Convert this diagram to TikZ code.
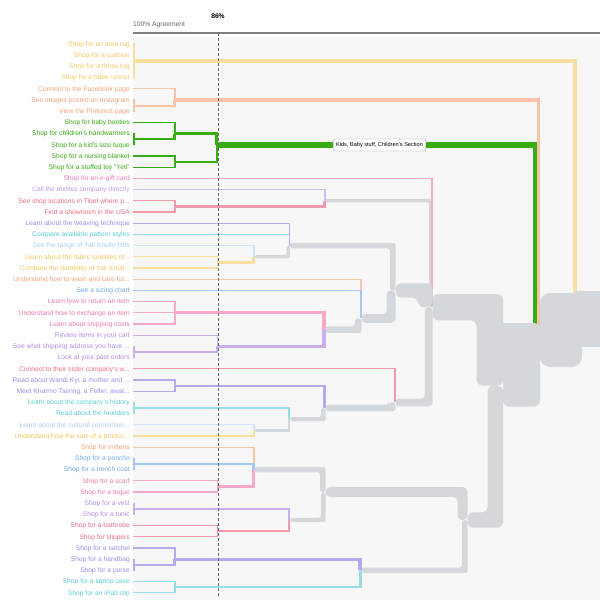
\documentclass[tikz,border=0pt]{standalone}
\usepackage{fontspec}
\newfontfamily\lab{Liberation Sans}
\definecolor{cYel}{HTML}{F5C860}
\definecolor{cOrg}{HTML}{F5A37B}
\definecolor{cGrn}{HTML}{38AD12}
\definecolor{cPnk}{HTML}{F27AAE}
\definecolor{cLav}{HTML}{BA9CEA}
\definecolor{cRed}{HTML}{EC6E88}
\definecolor{cInd}{HTML}{9E8DE8}
\definecolor{cTea}{HTML}{5ECED6}
\definecolor{cLbl}{HTML}{A9CCF5}
\definecolor{cBlu}{HTML}{72AAF2}
\definecolor{cPur}{HTML}{B38CE8}
\definecolor{cGry}{HTML}{D5D8DB}
\colorlet{lYel}{cYel!60!white}
\colorlet{lOrg}{cOrg!65!white}
\colorlet{lGrn}{cGrn}
\colorlet{lPnk}{cPnk!65!white}
\colorlet{lLav}{cLav!65!white}
\colorlet{lRed}{cRed!70!white}
\colorlet{lInd}{cInd!75!white}
\colorlet{lTea}{cTea!65!white}
\colorlet{lLbl}{cLbl!55!white}
\colorlet{lBlu}{cBlu!65!white}
\colorlet{lPur}{cPur!70!white}
% coloured link: colour, leaves, xc, yc, xp, yp
\newcommand{\lk}[6]{%
  \pgfmathsetmacro{\lkw}{1.1*#2}%
  \pgfmathsetmacro{\lkx}{#5-0.55*#2}%
  \draw[line width=\lkw pt, color=#1, line cap=butt, line join=miter] (#3,#4) -- (\lkx,#4) -- (\lkx,#6);}
% thick grey link as a filled elbow with rounded corners
\newcommand{\glk}[6]{%
  \pgfmathsetmacro{\gkw}{1.1*#2}%
  \pgfmathsetmacro{\gkh}{0.55*#2}%
  \pgfmathsetmacro{\gks}{2*(#6>#4)-1}%
  \pgfmathsetmacro{\gkr}{min(0.45*\gkw,6)}%
  \pgfmathsetmacro{\gkya}{#4-\gks*\gkh}%
  \pgfmathsetmacro{\gkyb}{#4+\gks*\gkh}%
  \pgfmathsetmacro{\gkxl}{#5-\gkw}%
  \fill[#1, rounded corners=\gkr pt] (#3,\gkya) -- (#5,\gkya) -- (#5,#6) -- (\gkxl,#6) -- (\gkxl,\gkyb) -- (#3,\gkyb) -- cycle;}
\newcommand{\lbl}[3]{\node[lbl, text=#2] (l#1) at (130,{44+11.2*(#1-1)+2.2}) {#3};}
\tikzset{lbl/.style={anchor=base east, inner sep=0pt, font=\lab\fontsize{6.7}{8}\selectfont}}
\begin{document}
\begin{tikzpicture}[x=1pt,y=-1pt]
\useasboundingbox (0,0) rectangle (600,600);
\fill[white] (0,0) rectangle (600,600);
\fill[black!3] (133,37) rectangle (600,600);
\draw[color=black!50, line width=1.2pt] (133,33) -- (600,33);
\node[anchor=base west, inner sep=0pt, text=black!60, font=\lab\fontsize{6.7}{8}\selectfont] (agr) at (133,26.7) {100\% Agreement};
\node[anchor=base, inner sep=0pt, font=\lab\fontsize{6.7}{8}\selectfont\bfseries] (pct) at (218,18.5) {86\%};
\begin{scope}
\clip (132,37) rectangle (600,600);
% A
\lk{lYel}{1}{133}{44}{134.5}{60.8}
\lk{lYel}{1}{133}{55.2}{134.5}{60.8}
\lk{lYel}{1}{133}{66.4}{134.5}{60.8}
\lk{lYel}{1}{133}{77.6}{134.5}{60.8}
% B
\lk{lOrg}{1}{133}{88.8}{175.5}{100}
\lk{lOrg}{1}{133}{100}{134.5}{105.6}
\lk{lOrg}{1}{133}{111.2}{134.5}{105.6}
\lk{lOrg}{2}{134.5}{105.6}{175.5}{100}
% C
\lk{lGrn}{1}{133}{122.4}{175.5}{133.6}
\lk{lGrn}{1}{133}{133.6}{134.5}{139.2}
\lk{lGrn}{1}{133}{144.8}{134.5}{139.2}
\lk{lGrn}{2}{134.5}{139.2}{175.5}{133.6}
\lk{lGrn}{1}{133}{156}{175.5}{161.6}
\lk{lGrn}{1}{133}{167.2}{175.5}{161.6}
\lk{lGrn}{3}{175.5}{133.6}{218}{144.8}
\lk{lGrn}{2}{175.5}{161.6}{218}{144.8}
% D
\lk{lRed}{1}{133}{200.8}{175.5}{206.4}
\lk{lRed}{1}{133}{212}{175.5}{206.4}
\lk{lLav}{1}{133}{189.6}{325.5}{200.8}
\lk{lRed}{2}{175.5}{206.4}{325.5}{200.8}
% E
\lk{lYel}{1}{133}{256.8}{218}{262.4}
\lk{lYel}{1}{133}{268}{218}{262.4}
\lk{lLbl}{1}{133}{245.6}{254.5}{256.8}
\lk{lYel}{2}{218}{262.4}{254.5}{256.8}
\glk{cGry}{3}{254.5}{256.8}{290}{245.6}
\lk{lTea}{1}{133}{234.4}{290}{245.6}
\lk{lInd}{1}{133}{223.2}{290}{245.6}
% F G H
\lk{lPnk}{1}{133}{301.6}{175.5}{312.8}
\lk{lPnk}{1}{133}{312.8}{175.5}{312.8}
\lk{lPnk}{1}{133}{324}{175.5}{312.8}
\lk{lPur}{1}{133}{346.4}{134.5}{352}
\lk{lPur}{1}{133}{357.6}{134.5}{352}
\lk{lPur}{1}{133}{335.2}{218}{346.4}
\lk{lPur}{2}{134.5}{352}{218}{346.4}
\lk{lPnk}{3}{175.5}{312.8}{325.5}{329.6}
\lk{lPur}{3}{218}{346.4}{325.5}{329.6}
\glk{cGry}{6}{325.5}{329.6}{361.5}{318.4}
\lk{lOrg}{1}{133}{279.2}{361.5}{318.4}
\lk{lBlu}{1}{133}{290.4}{361.5}{318.4}
\glk{cGry}{8}{361.5}{318.4}{395.5}{290.4}
\glk{cGry}{5}{290}{245.6}{395.5}{290.4}
% I
\lk{lInd}{1}{133}{380}{175.5}{385.6}
\lk{lInd}{1}{133}{391.2}{175.5}{385.6}
\lk{lTea}{1}{133}{402.4}{134.5}{408}
\lk{lTea}{1}{133}{413.6}{134.5}{408}
\lk{lLbl}{1}{133}{424.8}{254.5}{430.4}
\lk{lYel}{1}{133}{436}{254.5}{430.4}
\lk{lTea}{2}{134.5}{408}{290}{419.2}
\lk{cGry}{2}{254.5}{430.4}{290}{419.2}
\lk{lInd}{2}{175.5}{385.6}{325.5}{408}
\glk{cGry}{4}{290}{419.2}{325.5}{408}
\lk{lRed}{1}{133}{368.8}{395.5}{402.4}
\glk{cGry}{6}{325.5}{408}{395.5}{402.4}
% K
\lk{lOrg}{1}{133}{447.2}{254.5}{469.6}
\lk{lBlu}{1}{133}{458.4}{134.5}{464}
\lk{lBlu}{1}{133}{469.6}{134.5}{464}
\lk{lBlu}{2}{134.5}{464}{254.5}{469.6}
\lk{lPnk}{1}{133}{480.8}{218}{486.4}
\lk{lPnk}{1}{133}{492}{218}{486.4}
\lk{lPnk}{2}{218}{486.4}{254.5}{469.6}
\glk{cGry}{5}{254.5}{469.6}{325.5}{492}
\lk{lPur}{1}{133}{503.2}{134.5}{508.8}
\lk{lPur}{1}{133}{514.4}{134.5}{508.8}
\lk{lPur}{2}{134.5}{508.8}{290}{520}
\lk{lRed}{1}{133}{525.6}{218}{531.2}
\lk{lRed}{1}{133}{536.8}{218}{531.2}
\lk{lRed}{2}{218}{531.2}{290}{520}
\glk{cGry}{4}{290}{520}{325.5}{492}
\glk{cGry}{9}{325.5}{492}{467.5}{520}
\lk{lInd}{1}{133}{548}{175.5}{559.2}
\lk{lInd}{1}{133}{559.2}{134.5}{564.8}
\lk{lInd}{1}{133}{570.4}{134.5}{564.8}
\lk{lInd}{2}{134.5}{564.8}{175.5}{559.2}
\lk{lTea}{1}{133}{581.6}{175.5}{587.2}
\lk{lTea}{1}{133}{592.8}{175.5}{587.2}
\lk{lInd}{3}{175.5}{559.2}{361.5}{570.4}
\lk{lTea}{2}{175.5}{587.2}{361.5}{570.4}
\glk{cGry}{5}{361.5}{570.4}{467.5}{520}
% J
\glk{cGry}{3}{325.5}{200.8}{432.5}{307.2}
\lk{lPnk}{1}{133}{178.4}{432.5}{307.2}
\glk{cGry}{13}{395.5}{290.4}{432.5}{307.2}
\glk{cGry}{7}{395.5}{402.4}{432.5}{307.2}
% top level
\lk{lYel}{4}{134.5}{60.8}{577}{318.4}
\lk{lGrn}{5}{218}{144.8}{538.5}{357.6}
\lk{lOrg}{3}{175.5}{100}{540}{340.8}
\glk{cGry}{24}{432.5}{307.2}{503}{385.6}
\glk{cGry}{14}{467.5}{520}{503}{385.6}
\glk{cGry}{38}{503}{385.6}{540}{323}
\fill[cGry, rounded corners=10pt] (540,293) rectangle (582,367);
\fill[cGry] (575,290.5) rectangle (605,346.5);
\end{scope}
\draw[color=black!60, line width=0.8pt, dash pattern=on 3pt off 2pt] (218,33) -- (218,597);
\node[draw=black!40, fill=white, rounded corners=1.5pt, inner xsep=3pt, inner ysep=0pt, minimum height=12pt, font=\lab\fontsize{5.6}{7}\selectfont] (box) at (379.5,145) {Kids, Baby stuff, Children's Section};
% labels
\lbl{1}{cYel}{Shop for an area rug}
\lbl{2}{cYel}{Shop for a cushion}
\lbl{3}{cYel}{Shop for a throw rug}
\lbl{4}{cYel}{Shop for a table runner}
\lbl{5}{cOrg}{Connect to the Facebook page}
\lbl{6}{cOrg}{See images posted on Instagram}
\lbl{7}{cOrg}{View the Pinterest page}
\lbl{8}{cGrn}{Shop for baby booties}
\lbl{9}{cGrn}{Shop for children's handwarmers}
\lbl{10}{cGrn}{Shop for a kid's size tuque}
\lbl{11}{cGrn}{Shop for a nursing blanket}
\lbl{12}{cGrn}{Shop for a stuffed toy "Yeti"}
\lbl{13}{cPnk}{Shop for an e-gift card}
\lbl{14}{cLav}{Call the textiles company directly}
\lbl{15}{cRed}{See shop locations in Tibet where p...}
\lbl{16}{cRed}{Find a showroom in the USA}
\lbl{17}{cInd}{Learn about the weaving technique}
\lbl{18}{cTea}{Compare available pattern styles}
\lbl{19}{cLbl}{See the range of Yak Khullu felts}
\lbl{20}{cYel}{Learn about the fabric qualities of...}
\lbl{21}{cYel}{Compare the durability of Yak Khull...}
\lbl{22}{cOrg}{Understand how to wash and care for...}
\lbl{23}{cBlu}{See a sizing chart}
\lbl{24}{cPnk}{Learn how to return an item}
\lbl{25}{cPnk}{Understand how to exchange an item}
\lbl{26}{cPnk}{Learn about shipping costs}
\lbl{27}{cPur}{Review items in your cart}
\lbl{28}{cPur}{See what shipping address you have ...}
\lbl{29}{cPur}{Look at your past orders}
\lbl{30}{cRed}{Connect to their sister company's w...}
\lbl{31}{cInd}{Read about Wandi Kyi, a mother and ...}
\lbl{32}{cInd}{Meet Kharmo Tsering, a Felter, awar...}
\lbl{33}{cTea}{Learn about the company's history}
\lbl{34}{cTea}{Read about the founders}
\lbl{35}{cLbl}{Learn about the cultural connection...}
\lbl{36}{cYel}{Understand how the sale of a produc...}
\lbl{37}{cOrg}{Shop for mittens}
\lbl{38}{cBlu}{Shop for a poncho}
\lbl{39}{cBlu}{Shop for a trench coat}
\lbl{40}{cPnk}{Shop for a scarf}
\lbl{41}{cPnk}{Shop for a tuque}
\lbl{42}{cPur}{Shop for a vest}
\lbl{43}{cPur}{Shop for a tunic}
\lbl{44}{cRed}{Shop for a bathrobe}
\lbl{45}{cRed}{Shop for slippers}
\lbl{46}{cInd}{Shop for a satchel}
\lbl{47}{cInd}{Shop for a handbag}
\lbl{48}{cInd}{Shop for a purse}
\lbl{49}{cTea}{Shop for a laptop case}
\lbl{50}{cTea}{Shop for an iPad slip}
\end{tikzpicture}
\end{document}
